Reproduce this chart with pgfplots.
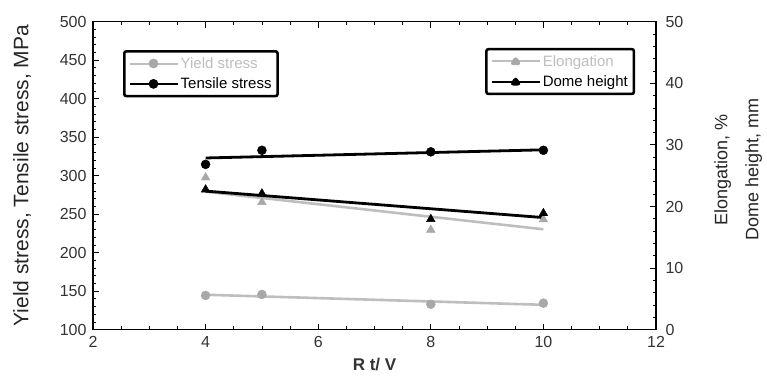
\documentclass[border=0pt]{standalone}
\usepackage{fontspec}
\setmainfont{Liberation Sans}
\usepackage{pgfplots}
\pgfplotsset{compat=1.18}
\definecolor{lgray}{RGB}{190,190,190}
\definecolor{mgray}{RGB}{168,168,168}
\begin{document}
\begin{tikzpicture}
\pgfplotsset{
  common/.style={
    scale only axis, width=563pt, height=308pt,
    xmin=2, xmax=12,
    tick align=inside,
    major tick length=6pt, minor tick length=3.5pt,
    tick style={black, line width=0.8pt},
    axis line style={black, line width=1.1pt},
    /pgf/number format/assume math mode=true,
    ticklabel style={font=\fontsize{16}{18}\selectfont, text=black!80},
    legend cell align=left,
  },
  mylegend/.style={draw=black, line width=2.6pt, rounded corners=2pt,
    font=\fontsize{15}{17}\selectfont, inner xsep=4pt, inner ysep=4pt, row sep=4pt,
    nodes={line width=0.8pt}},
}
\begin{axis}[common,
  ymin=100, ymax=500,
  ytick={100,150,...,500}, minor y tick num=4,
  xtick={2,4,...,12}, minor x tick num=3,
  ytick pos=left, xtick pos=both,
  yticklabel style={xshift=-3pt},
  xticklabel style={yshift=-3pt},
  xlabel={\textbf{R t/ V}},
  xlabel style={at={(axis description cs:0.5,-0.113)}, anchor=center, font=\fontsize{17}{19}\selectfont, text=black!80},
  ylabel={Yield stress, Tensile stress, MPa},
  ylabel style={at={(axis description cs:-0.126,0.5)}, anchor=center, font=\fontsize{21}{23}\selectfont, text=black!85},
  legend style={at={(0.0533,0.908)}, anchor=north west, mylegend},
]
\coordinate (SW) at (rel axis cs:0,0);
\coordinate (NE) at (rel axis cs:1,1);
% fit lines
\addplot[lgray, line width=2.6pt, forget plot] coordinates {(4,145.4) (10,132.3)};
\addplot[black, line width=2.8pt, forget plot] coordinates {(4,323) (10,333.6)};
% data
\addplot[only marks, mark=*, mark size=4.5pt, color=mgray,
  legend image code/.code={\draw[lgray, line width=2pt] (0pt,0pt) -- (48pt,0pt); \fill[mgray] (24pt,0pt) circle (3.5pt);}]
  coordinates {(4,144.5) (5,145.8) (8,133) (10,134.5)};
\addlegendentry{\textcolor{lgray}{Yield stress}}
\addplot[only marks, mark=*, mark size=4.5pt, color=black,
  legend image code/.code={\draw[black, line width=2.4pt] (0pt,0pt) -- (48pt,0pt); \fill[black] (24pt,0pt) circle (3.5pt);}]
  coordinates {(4,314.7) (5,333) (8,331) (10,333)};
\addlegendentry{Tensile stress}
\end{axis}
\begin{axis}[common,
  ymin=0, ymax=50,
  ytick={0,10,...,50}, minor y tick num=4,
  axis x line=none, axis y line*=right,
  ylabel={Elongation, \%\\Dome height, mm},
  ylabel style={at={(axis description cs:1.146,0.52)}, anchor=center, align=center,
    font=\fontsize{18}{31}\selectfont, text=black!85},
  yticklabel style={xshift=6pt},
  legend style={at={(0.963,0.915)}, anchor=north east, mylegend},
]
\addplot[lgray, line width=2.6pt, forget plot] coordinates {(4,22.4) (10,16.3)};
\addplot[black, line width=2.8pt, forget plot] coordinates {(4,22.5) (10,18.2)};
\addplot[only marks, mark=triangle*, mark size=5pt, color=mgray,
  legend image code/.code={\draw[lgray, line width=2pt] (0pt,0pt) -- (48pt,0pt); \fill[mgray] (20pt,-2.5pt) -- (28pt,-2.5pt) -- (24pt,3.5pt) -- cycle;}]
  coordinates {(4,24.7) (5,20.7) (8,16.2) (10,17.9)};
\addlegendentry{\textcolor{lgray}{Elongation}}
\addplot[only marks, mark=triangle*, mark size=5pt, color=black,
  legend image code/.code={\draw[black, line width=2.4pt] (0pt,0pt) -- (48pt,0pt); \fill[black] (20pt,-2.5pt) -- (28pt,-2.5pt) -- (24pt,3.5pt) -- cycle;}]
  coordinates {(4,22.75) (5,22.1) (8,17.95) (10,18.9)};
\addlegendentry{Dome height}
\end{axis}
\pgfresetboundingbox
\path ([xshift=-93pt,yshift=-46pt]SW) rectangle ([xshift=111pt,yshift=21.7pt]NE);
\end{tikzpicture}
\end{document}
